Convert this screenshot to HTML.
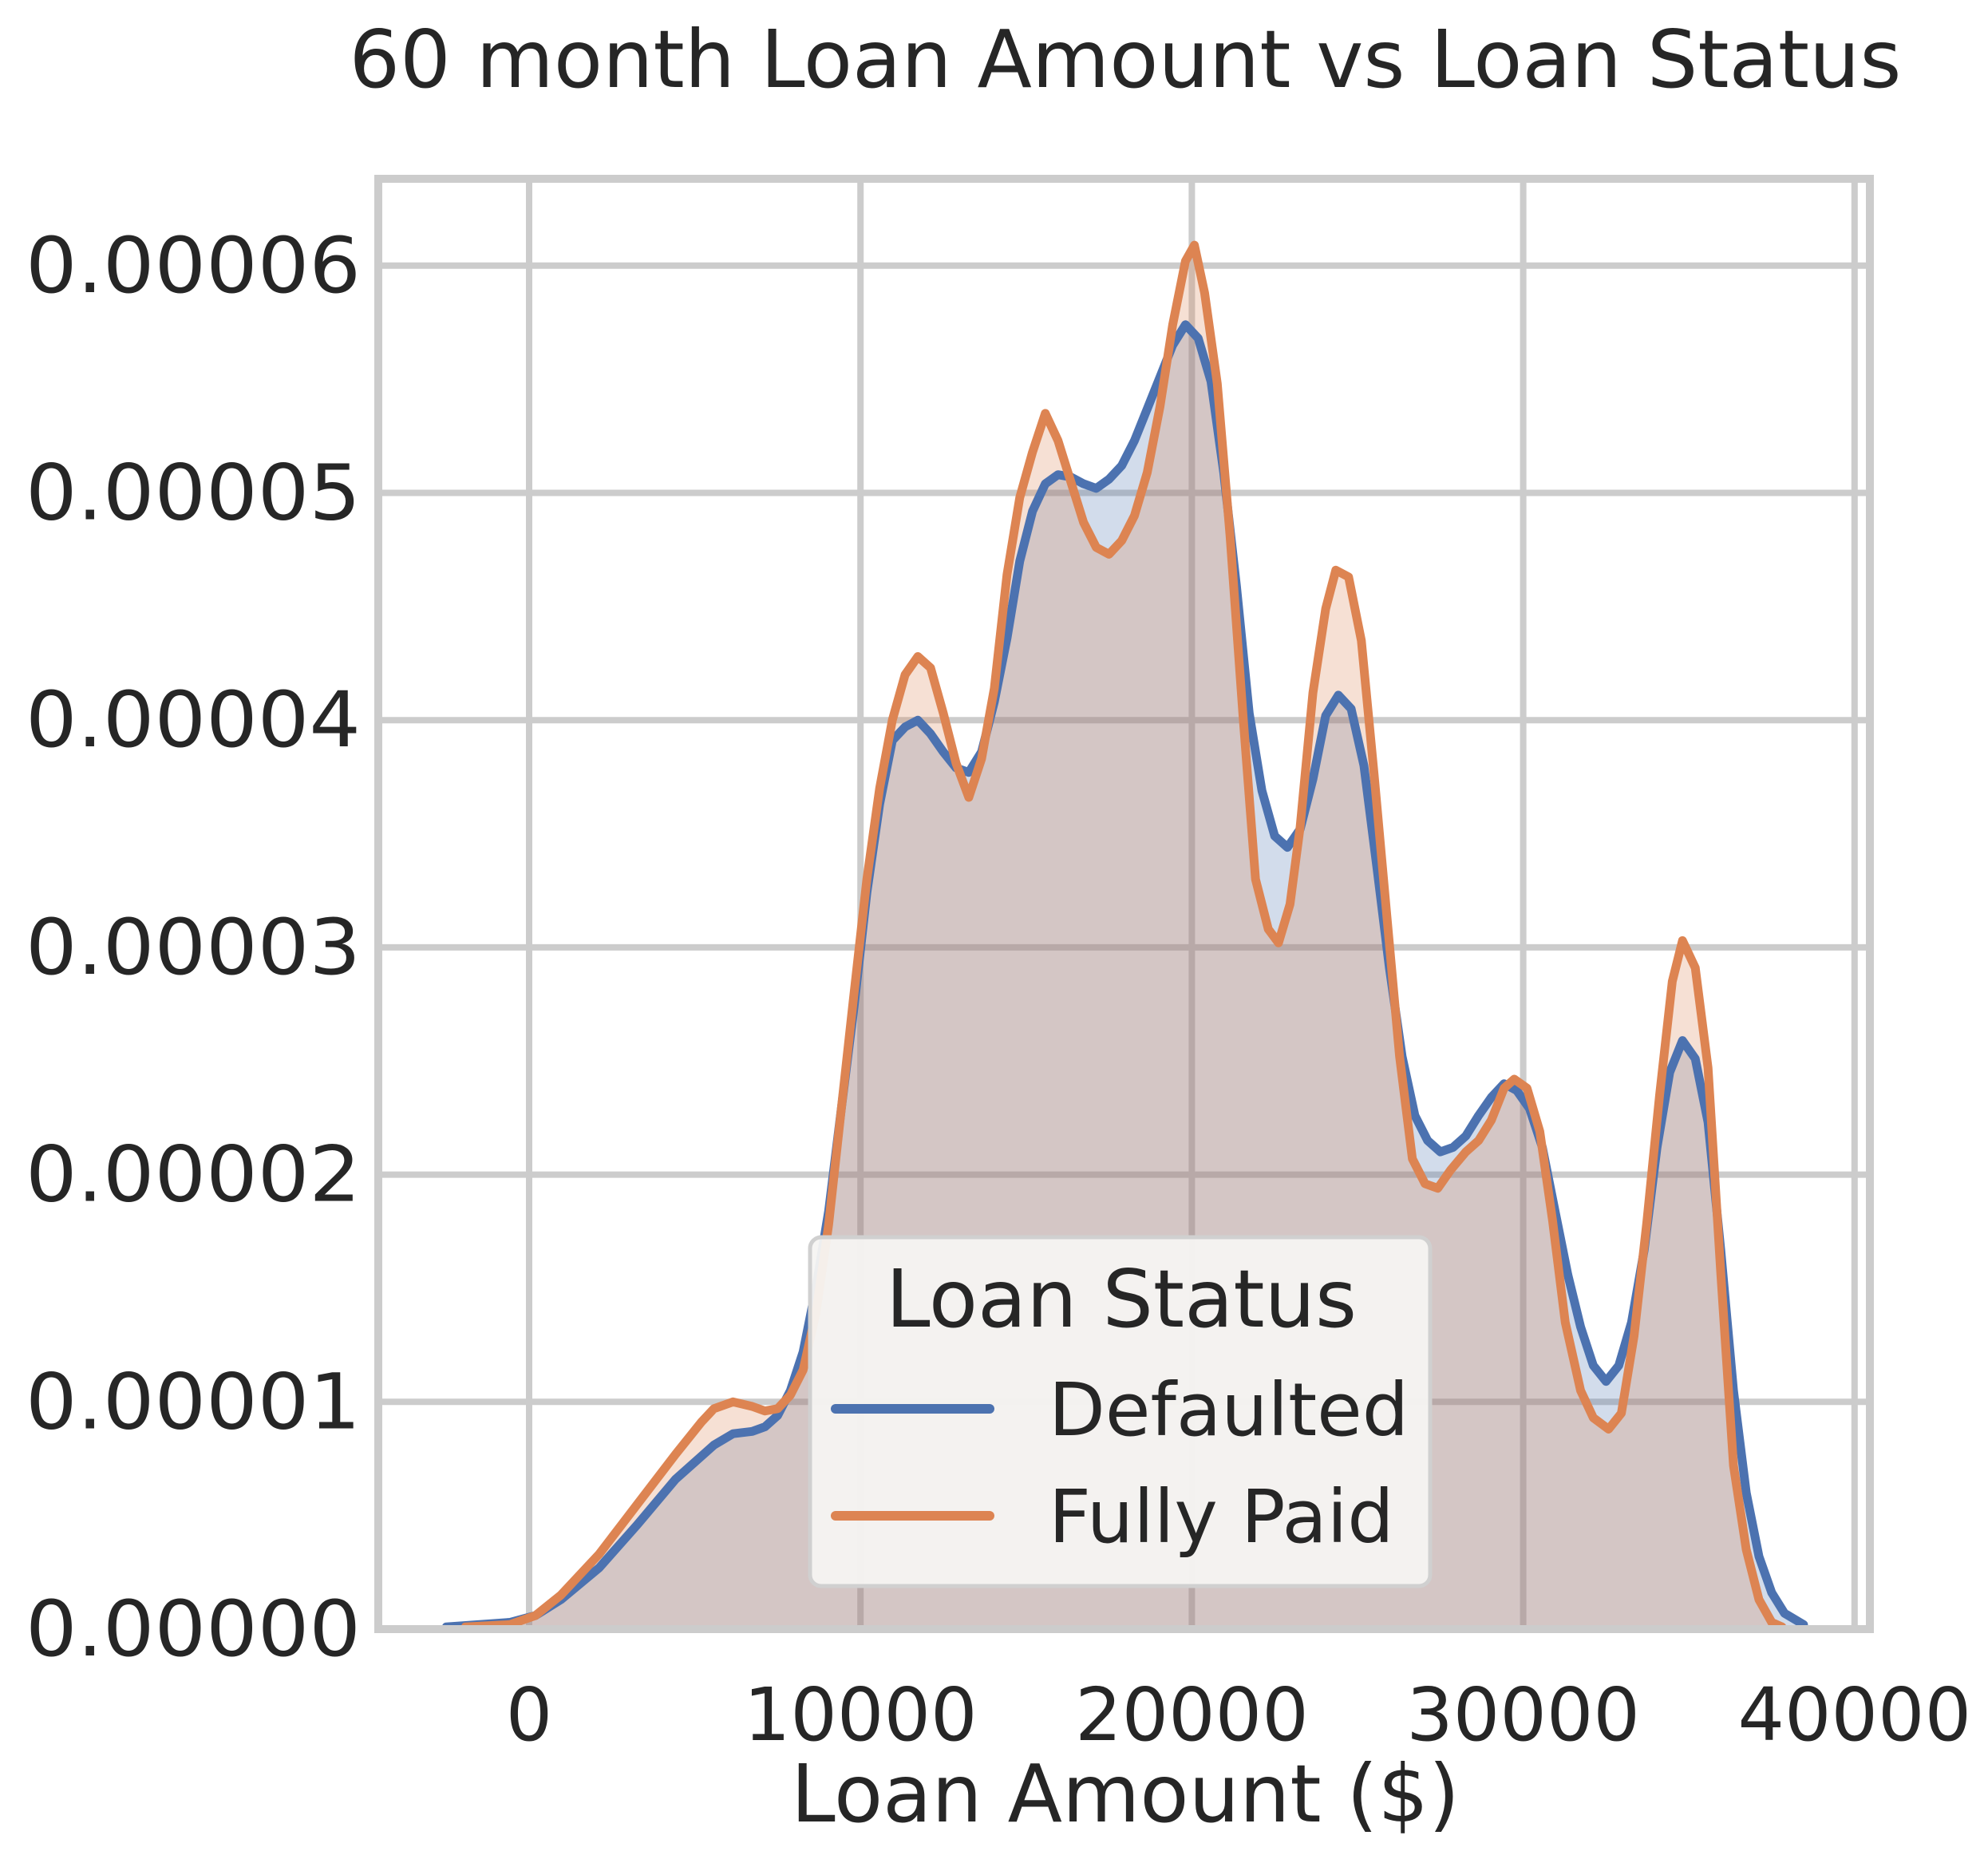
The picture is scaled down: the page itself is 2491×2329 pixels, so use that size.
<!DOCTYPE html>
<html><head><meta charset="utf-8"><style>
html,body{margin:0;padding:0;background:#fff;}
svg{display:block;font-family:"DejaVu Sans","Liberation Sans",sans-serif;}
</style></head><body>
<svg id="chart" width="2491" height="2329" viewBox="0 0 2491 2329" xmlns="http://www.w3.org/2000/svg">
<rect x="0" y="0" width="2491" height="2329" fill="#fff"/>
<text x="1410" y="109" font-size="100" text-anchor="middle" fill="#262626">60 month Loan Amount vs Loan Status</text>
<g id="grid"></g>
<g id="fills"></g>
<g id="lines"></g>
<rect x="474" y="224" width="1869" height="1817" fill="none" stroke="#cccccc" stroke-width="10"/>
<g id="ticks"></g>
<text x="1410" y="2282" font-size="100" text-anchor="middle" fill="#262626">Loan Amount ($)</text>
<g>
<rect x="1015" y="1550" width="777" height="437" rx="14" fill="#f5f4f2" fill-opacity="0.95" stroke="#d0d0d0" stroke-width="5"/>
<text x="1405" y="1662" font-size="100" text-anchor="middle" fill="#262626">Loan Status</text>
<line x1="1047" y1="1765" x2="1240" y2="1765" stroke="#4c72b0" stroke-width="12" stroke-linecap="round"/>
<text x="1314" y="1798" font-size="92" fill="#262626">Defaulted</text>
<line x1="1047" y1="1899" x2="1240" y2="1899" stroke="#dd8452" stroke-width="12" stroke-linecap="round"/>
<text x="1314" y="1932" font-size="92" fill="#262626">Fully Paid</text>
</g>
</svg>
<script>
const xTicks = [0, 10000, 20000, 30000, 40000];
const xTickLabels = ["0", "10000", "20000", "30000", "40000"];
const yTicks = [0, 1, 2, 3, 4, 5, 6];
const yTickLabels = ["0.00000", "0.00001", "0.00002", "0.00003", "0.00004", "0.00005", "0.00006"];
// densities in units of 1e-5
const defaultedX = [-2500,-577,192,962,2115,3269,4423,5577,6154,6731,7115,7500,7885,8269,8654,9038,9423,9808,10192,10577,10962,11346,11731,12115,12500,12885,13269,13654,14038,14423,14808,15192,15577,15962,16346,16731,17115,17500,17885,18269,18654,19038,19423,19808,20192,20577,20962,21346,21731,22115,22500,22885,23269,23654,24038,24423,24808,25192,25577,25962,26346,26731,27115,27500,27885,28269,28654,29038,29423,29808,30192,30577,30962,31346,31731,32115,32500,32885,33269,33654,34038,34423,34808,35192,35577,35962,36346,36731,37115,37500,37885,38462];
const defaultedY = [0.01,0.03,0.06,0.13,0.27,0.46,0.66,0.81,0.86,0.87,0.89,0.94,1.05,1.22,1.50,1.84,2.29,2.74,3.24,3.63,3.91,3.97,4.00,3.94,3.86,3.79,3.77,3.86,4.08,4.36,4.70,4.92,5.04,5.08,5.07,5.04,5.02,5.06,5.12,5.23,5.37,5.51,5.65,5.74,5.68,5.49,5.09,4.59,4.03,3.69,3.49,3.44,3.52,3.74,4.02,4.11,4.05,3.80,3.36,2.91,2.52,2.26,2.15,2.10,2.12,2.17,2.26,2.34,2.40,2.37,2.29,2.12,1.84,1.56,1.33,1.16,1.09,1.16,1.35,1.67,2.12,2.45,2.59,2.51,2.23,1.67,1.05,0.60,0.32,0.16,0.07,0.02];
const paidX = [-1923,-577,192,962,2115,3269,4423,5192,5577,6154,6731,7115,7500,7885,8269,8654,9038,9423,9808,10192,10577,10962,11346,11731,12115,12500,12885,13269,13654,14038,14423,14808,15192,15577,15962,16346,16731,17115,17500,17885,18269,18654,19038,19423,19808,20077,20385,20769,21154,21538,21923,22308,22615,22962,23269,23654,24038,24346,24731,25115,25500,25885,26269,26654,27038,27423,27808,28269,28654,29038,29423,29731,30115,30500,30885,31269,31731,32115,32577,32962,33346,33731,34115,34500,34808,35192,35577,35962,36346,36731,37115,37500,37808];
const paidY = [0.01,0.02,0.06,0.15,0.33,0.55,0.77,0.91,0.97,1.00,0.98,0.96,0.97,1.03,1.14,1.39,1.78,2.29,2.80,3.30,3.70,4.00,4.20,4.28,4.23,4.03,3.81,3.66,3.83,4.14,4.64,4.98,5.18,5.35,5.23,5.05,4.87,4.76,4.73,4.79,4.90,5.09,5.38,5.74,6.02,6.09,5.88,5.48,4.81,4.03,3.30,3.08,3.02,3.19,3.53,4.12,4.49,4.66,4.63,4.35,3.76,3.14,2.52,2.07,1.96,1.94,2.02,2.10,2.15,2.24,2.38,2.42,2.38,2.19,1.80,1.35,1.05,0.93,0.88,0.95,1.29,1.79,2.35,2.85,3.03,2.91,2.47,1.57,0.72,0.35,0.13,0.03,0.01];

const NS = "http://www.w3.org/2000/svg";
const X0 = 663, XS = 415.2 / 10000, Y0 = 2041, YS = 284.7;
const L = 474, R = 2343, T = 224, B = 2041;
function sx(v){ return X0 + v * XS; }
function sy(v){ return Y0 - v * YS; }
function mk(tag, attrs, parent){ const e = document.createElementNS(NS, tag); for (const k in attrs) e.setAttribute(k, attrs[k]); parent.appendChild(e); return e; }

const grid = document.getElementById('grid');
const ticks = document.getElementById('ticks');
xTicks.forEach((v, i) => {
  const g = mk('line', {x1: sx(v), x2: sx(v), y1: T, y2: B, stroke: '#cccccc', 'stroke-width': 8}, grid);
  
  
  const t = mk('text', {x: sx(v), y: 2180, 'font-size': 92, 'text-anchor': 'middle', fill: '#262626'}, ticks);
  t.textContent = xTickLabels[i];
  
  
});
yTicks.forEach((v, i) => {
  const g = mk('line', {x1: L, x2: R, y1: sy(v), y2: sy(v), stroke: '#cccccc', 'stroke-width': 8}, grid);
  
  
  const t = mk('text', {x: 32, y: sy(v) + 33, 'font-size': 96, textLength: 420, lengthAdjust: 'spacingAndGlyphs', fill: '#262626'}, ticks);
  t.textContent = yTickLabels[i];
  
  
});

function linePath(xs, ys){ return xs.map((x, i) => (i ? 'L' : 'M') + sx(x).toFixed(1) + ',' + sy(ys[i]).toFixed(1)).join(''); }
function areaPath(xs, ys){ return linePath(xs, ys) + 'L' + sx(xs[xs.length-1]).toFixed(1) + ',' + Y0 + 'L' + sx(xs[0]).toFixed(1) + ',' + Y0 + 'Z'; }

const fills = document.getElementById('fills');
const lines = document.getElementById('lines');
const f1 = mk('path', {d: areaPath(defaultedX, defaultedY), fill: '#4c72b0', 'fill-opacity': 0.25}, fills);


const f2 = mk('path', {d: areaPath(paidX, paidY), fill: '#dd8452', 'fill-opacity': 0.25}, fills);


const l1 = mk('path', {d: linePath(defaultedX, defaultedY), fill: 'none', stroke: '#4c72b0', 'stroke-width': 11, 'stroke-linejoin': 'round', 'stroke-linecap': 'round'}, lines);


const l2 = mk('path', {d: linePath(paidX, paidY), fill: 'none', stroke: '#dd8452', 'stroke-width': 11, 'stroke-linejoin': 'round', 'stroke-linecap': 'round'}, lines);


</script>
</body></html>
